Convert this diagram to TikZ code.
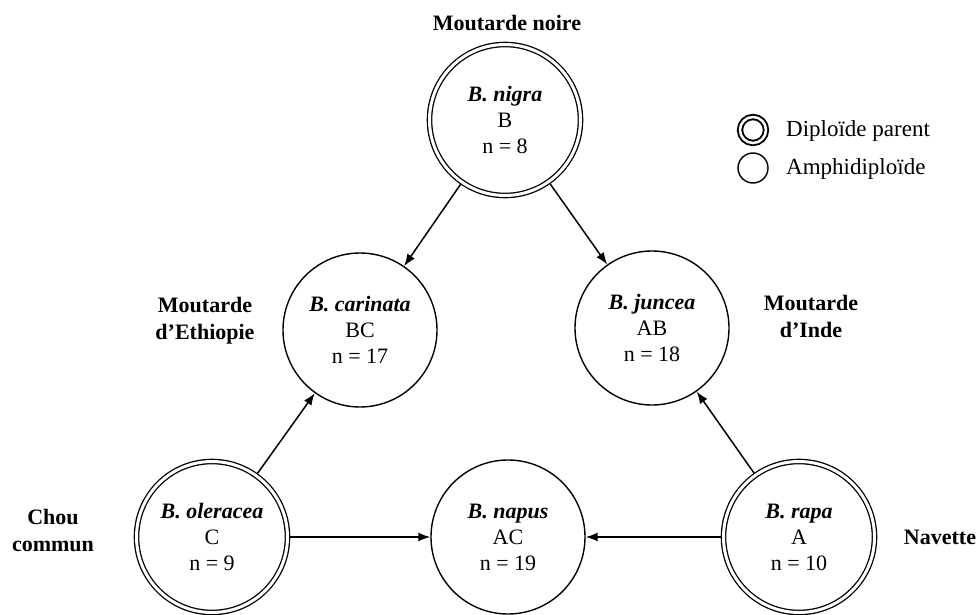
\documentclass[tikz,border=0pt]{standalone}
\usepackage{fontspec}
\setmainfont{Liberation Serif}
\usetikzlibrary{arrows.meta}
\begin{document}
\begin{tikzpicture}[x=1pt,y=-1pt,
  every node/.style={inner sep=0pt},
  species/.style={circle, draw, line width=1.4pt, minimum size=154pt, align=center,
    font=\fontsize{22}{26}\selectfont},
  parent/.style={species, double, double distance=3pt, line width=1.3pt,
    minimum size=151pt, outer sep=2.8pt},
  lab/.style={font=\fontsize{22}{27}\selectfont\bfseries, align=center},
  arr/.style={line width=1.5pt, -{Latex[length=12pt,width=9pt]}},
  legdouble/.style={circle, draw, double, double distance=2.5pt, line width=1.9pt, minimum size=26pt},
  legsingle/.style={circle, draw, line width=1.4pt, minimum size=30pt},
  legtext/.style={anchor=west, font=\fontsize{23}{27}\selectfont}
]
\fill[white] (0,0) rectangle (980,615);
\useasboundingbox (0,0) rectangle (980,615);

% species nodes
\node[parent]  (nigra)    at (505,120) {\textbf{\textit{B. nigra}}\\B\\n = 8};
\node[species] (carinata) at (360,330) {\textbf{\textit{B. carinata}}\\BC\\n = 17};
\node[species] (juncea)   at (652,328) {\textbf{\textit{B. juncea}}\\AB\\n = 18};
\node[parent]  (oleracea) at (212,537) {\textbf{\textit{B. oleracea}}\\C\\n = 9};
\node[species] (napus)    at (508,537) {\textbf{\textit{B. napus}}\\AC\\n = 19};
\node[parent]  (rapa)     at (799,537) {\textbf{\textit{B. rapa}}\\A\\n = 10};

% common names
\node[lab] (lnoire)    at (507,23)  {Moutarde noire};
\node[lab] (lethiopie) at (205,321) {Moutarde\\d’Ethiopie};
\node[lab] (linde)     at (811,316) {Moutarde\\d’Inde};
\node[lab] (lchou)     at (53,530)  {Chou\\commun};
\node[lab] (lnavette)  at (940,537) {Navette};

% arrows
\draw[arr] (nigra) -- (carinata);
\draw[arr] (nigra) -- (juncea);
\draw[arr] (oleracea) -- (carinata);
\draw[arr] (rapa) -- (juncea);
\draw[arr] (oleracea) -- (napus);
\draw[arr] (rapa) -- (napus);

% legend
\node[legdouble] (legd) at (753,130) {};
\node[legtext]   (legdt) at (786,131) {Diploïde parent};
\node[legsingle] (legs) at (753,168) {};
\node[legtext]   (legst) at (786,169) {Amphidiploïde};
\end{tikzpicture}
\end{document}
